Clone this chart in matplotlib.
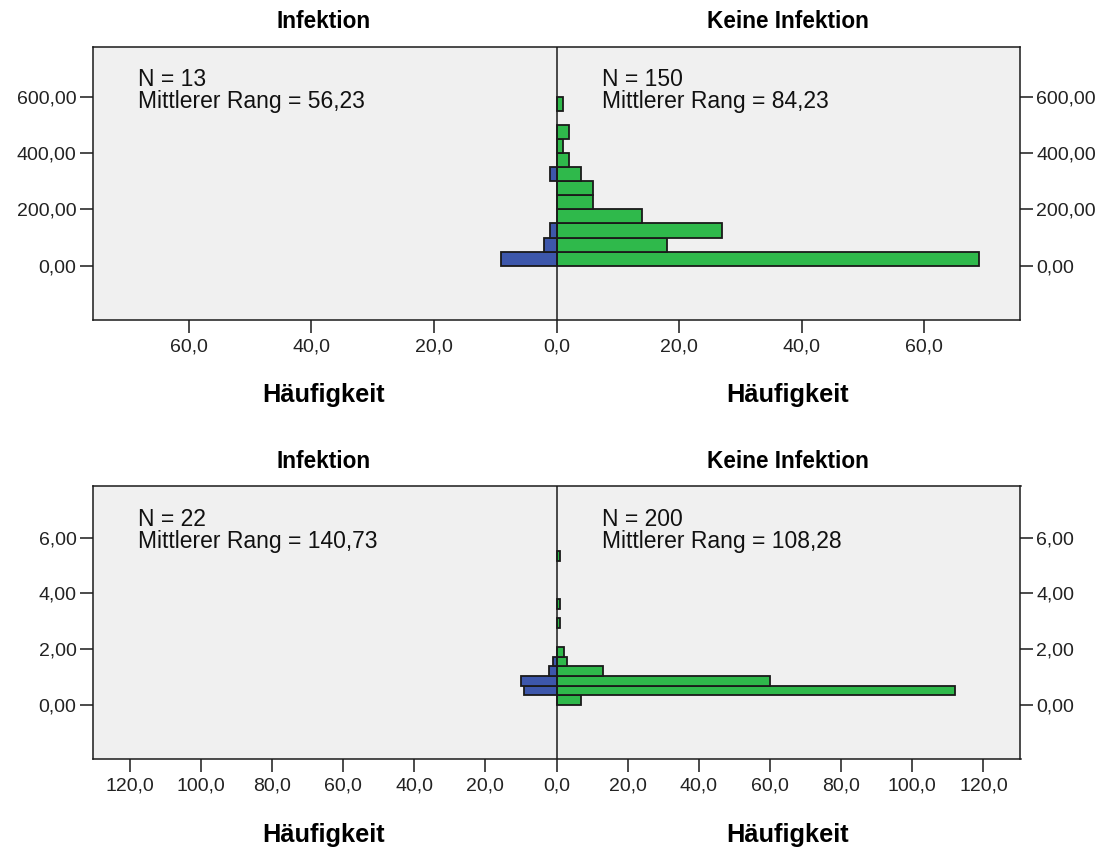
import numpy as np
import matplotlib
matplotlib.use('Agg')
import matplotlib.pyplot as plt
from matplotlib.ticker import FuncFormatter

plt.rcParams['font.family'] = ['Liberation Sans', 'DejaVu Sans']

# top panel: bins of 50, counts per group
TOP_EDGES = np.arange(0, 600 + 1, 50)
TOP_KEINE = [69, 18, 27, 14, 6, 6, 4, 2, 1, 2, 0, 1]
TOP_INFEKT = [9, 2, 1, 0, 0, 0, 1, 0, 0, 0, 0, 0]
TOP_STATS = ('N = 13\nMittlerer Rang = 56,23', 'N = 150\nMittlerer Rang = 84,23')
TOP_XTICKS = [-60, -40, -20, 0, 20, 40, 60]
TOP_YTICKS = [0, 200, 400, 600]

# bottom panel: bins of about 0,345
BOT_EDGES = np.arange(17) * 0.345
BOT_KEINE = [7, 112, 60, 13, 3, 2, 0, 0, 1, 0, 1, 0, 0, 0, 0, 1]
BOT_INFEKT = [0, 9, 10, 2, 1, 0, 0, 0, 0, 0, 0, 0, 0, 0, 0, 0]
BOT_STATS = ('N = 22\nMittlerer Rang = 140,73', 'N = 200\nMittlerer Rang = 108,28')
BOT_XTICKS = [-120, -100, -80, -60, -40, -20, 0, 20, 40, 60, 80, 100, 120]
BOT_YTICKS = [0, 2, 4, 6]

GREEN = '#2fb94b'
BLUE = '#3d57ab'
EDGE = '#1a1a1a'
BG = '#f0f0f0'

W, H = 1102, 849


def draw_panel(fig, rect, edges, keine, infekt, stats, xticks, yticks, xlim, ylim):
    ax = fig.add_axes(rect)
    ax.set_facecolor(BG)
    lo = edges[:-1]
    hgt = np.diff(edges)
    keine = np.asarray(keine)
    infekt = np.asarray(infekt)
    m = keine > 0
    ax.barh(lo[m], keine[m], height=hgt[m], align='edge', color=GREEN,
            edgecolor=EDGE, linewidth=1.3, zorder=2)
    m = infekt > 0
    ax.barh(lo[m], -infekt[m], height=hgt[m], align='edge', color=BLUE,
            edgecolor=EDGE, linewidth=1.3, zorder=2)
    ax.axvline(0, color=EDGE, linewidth=1.1, zorder=3)
    ax.set_xlim(*xlim)
    ax.set_ylim(*ylim)

    ax.set_xticks(xticks)
    ax.xaxis.set_major_formatter(FuncFormatter(lambda v, p: f'{abs(v):.1f}'.replace('.', ',')))
    ax.set_yticks(yticks)
    ax.yaxis.set_major_formatter(FuncFormatter(lambda v, p: f'{v:.2f}'.replace('.', ',')))
    ax.tick_params(axis='x', direction='out', length=9.5, width=1.1, color=EDGE,
                   labelsize=14, pad=4, labelcolor='#222222')
    ax.tick_params(axis='y', direction='out', length=9.5, width=1.1, color=EDGE,
                   labelsize=14, pad=2, labelcolor='#222222',
                   left=True, right=True, labelleft=True, labelright=True)
    for s in ax.spines.values():
        s.set_color(EDGE)
        s.set_linewidth(1.1)

    ax.text(0.0485, 0.92, stats[0], transform=ax.transAxes, ha='left', va='top',
            fontsize=16.5, linespacing=0.95, color='#111111')
    ax.text(0.549, 0.92, stats[1], transform=ax.transAxes, ha='left', va='top',
            fontsize=16.5, linespacing=0.95, color='#111111')
    return ax


def main():
    fig = plt.figure(figsize=(W / 100, H / 100), dpi=100)

    left = 92.5 / W
    width = 928 / W

    draw_panel(fig, [left, 1 - 319.5 / H, width, 273 / H], TOP_EDGES, TOP_KEINE, TOP_INFEKT,
               TOP_STATS, TOP_XTICKS, TOP_YTICKS, (-75.7, 75.7), (-191, 778))
    draw_panel(fig, [left, 1 - 758.5 / H, width, 272.5 / H], BOT_EDGES, BOT_KEINE, BOT_INFEKT,
               BOT_STATS, BOT_XTICKS, BOT_YTICKS, (-130.4, 130.4), (-1.92, 7.85))

    # group titles and axis labels for each half
    for yt, yl in ((22, 395), (462, 835)):
        fig.text(324 / W, 1 - yt / H, 'Infektion', ha='center', va='center',
                 fontsize=16.3, fontweight='bold')
        fig.text(788 / W, 1 - yt / H, 'Keine Infektion', ha='center', va='center',
                 fontsize=16.3, fontweight='bold')
        fig.text(324 / W, 1 - yl / H, 'Häufigkeit', ha='center', va='center',
                 fontsize=18.3, fontweight='bold')
        fig.text(788 / W, 1 - yl / H, 'Häufigkeit', ha='center', va='center',
                 fontsize=18.3, fontweight='bold')

    fig.savefig('out.png', dpi=100, facecolor='white')


if __name__ == '__main__':
    main()
